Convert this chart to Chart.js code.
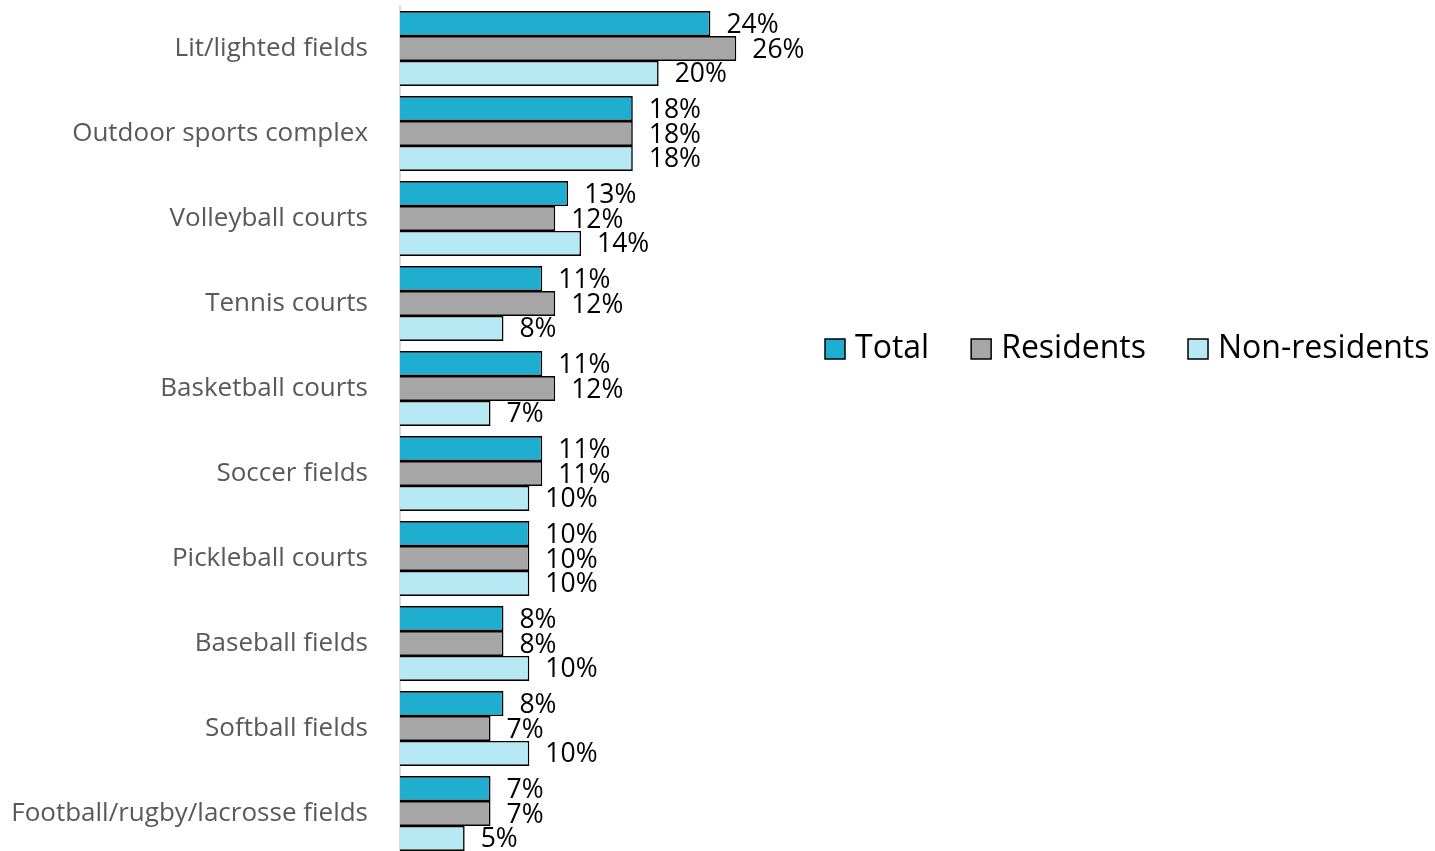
<!DOCTYPE html>
<html>
<head>
<meta charset="utf-8">
<script src="https://cdn.jsdelivr.net/npm/chart.js@4/dist/chart.umd.min.js"></script>
<style>
  html, body { margin: 0; padding: 0; overflow: hidden; background: #fff; }
  #wrap { position: relative; width: 1435px; height: 856px; }
</style>
</head>
<body>
<div id="wrap"><canvas id="chart"></canvas></div>
<script>
const categories = ['Lit/lighted fields', 'Outdoor sports complex', 'Volleyball courts', 'Tennis courts', 'Basketball courts',
    'Soccer fields', 'Pickleball courts', 'Baseball fields', 'Softball fields', 'Football/rugby/lacrosse fields'];
const totalValues = [24, 18, 13, 11, 11, 11, 10, 8, 8, 7];
const residentValues = [26, 18, 12, 12, 12, 11, 10, 8, 7, 7];
const nonResidentValues = [20, 18, 14, 8, 7, 10, 10, 10, 10, 5];
const seriesNames = ['Total', 'Residents', 'Non-residents'];
const seriesColors = ['#1FADD0', '#A6A6A6', '#B6E9F4'];

const FONT = '"Open Sans", sans-serif';

// value labels just past the end of each bar
const barLabels = {
    id: 'barLabels',
    afterDatasetsDraw(chart) {
        const ctx = chart.ctx;
        ctx.save();
        ctx.font = '26.5px ' + FONT;
        ctx.fillStyle = '#000';
        ctx.textAlign = 'left';
        ctx.textBaseline = 'middle';
        chart.data.datasets.forEach((ds, i) => {
            chart.getDatasetMeta(i).data.forEach((bar, j) => {
                ctx.fillText(ds.data[j] + '%', bar.x + 16, bar.y + 1.5);
            });
        });
        ctx.restore();
    }
};

// one-row legend to the right of the plot
const rowLegend = {
    id: 'rowLegend',
    afterDraw(chart) {
        const ctx = chart.ctx;
        ctx.save();
        ctx.font = '32px ' + FONT;
        ctx.textBaseline = 'middle';
        let x = 825;
        const y = 349;
        chart.data.datasets.forEach(ds => {
            ctx.fillStyle = ds.backgroundColor;
            ctx.fillRect(x, y - 10, 20, 20);
            ctx.strokeStyle = '#000';
            ctx.lineWidth = 1.5;
            ctx.strokeRect(x, y - 10, 20, 20);
            ctx.fillStyle = '#000';
            ctx.fillText(ds.label, x + 30, y);
            x += 30 + ctx.measureText(ds.label).width + 42;
        });
        ctx.restore();
    }
};

new Chart(document.getElementById('chart'), {
    type: 'bar',
    data: {
        labels: categories,
        datasets: [
            { label: seriesNames[0], data: totalValues, backgroundColor: seriesColors[0] },
            { label: seriesNames[1], data: residentValues, backgroundColor: seriesColors[1] },
            { label: seriesNames[2], data: nonResidentValues, backgroundColor: seriesColors[2] }
        ].map(d => Object.assign(d, { borderColor: '#000', borderWidth: 1.6, categoryPercentage: 0.88, barPercentage: 1 }))
    },
    options: {
        indexAxis: 'y',
        responsive: true,
        maintainAspectRatio: false,
        animation: false,
        layout: { padding: { top: 6, right: 647, bottom: 0, left: 0 } },
        plugins: { legend: { display: false }, tooltip: { enabled: false } },
        scales: {
            x: { display: false, min: 0, max: 30 },
            y: {
                grid: { display: false, drawTicks: false },
                border: { display: true, color: '#D9D9D9', width: 2 },
                ticks: { color: '#595959', font: { family: FONT, size: 26 }, padding: 32 },
                afterFit(scale) {
                    scale.width = 400;
                    scale.paddingTop = 0;
                    scale.paddingBottom = 0;
                }
            }
        }
    },
    plugins: [barLabels, rowLegend]
});
</script>
</body>
</html>
